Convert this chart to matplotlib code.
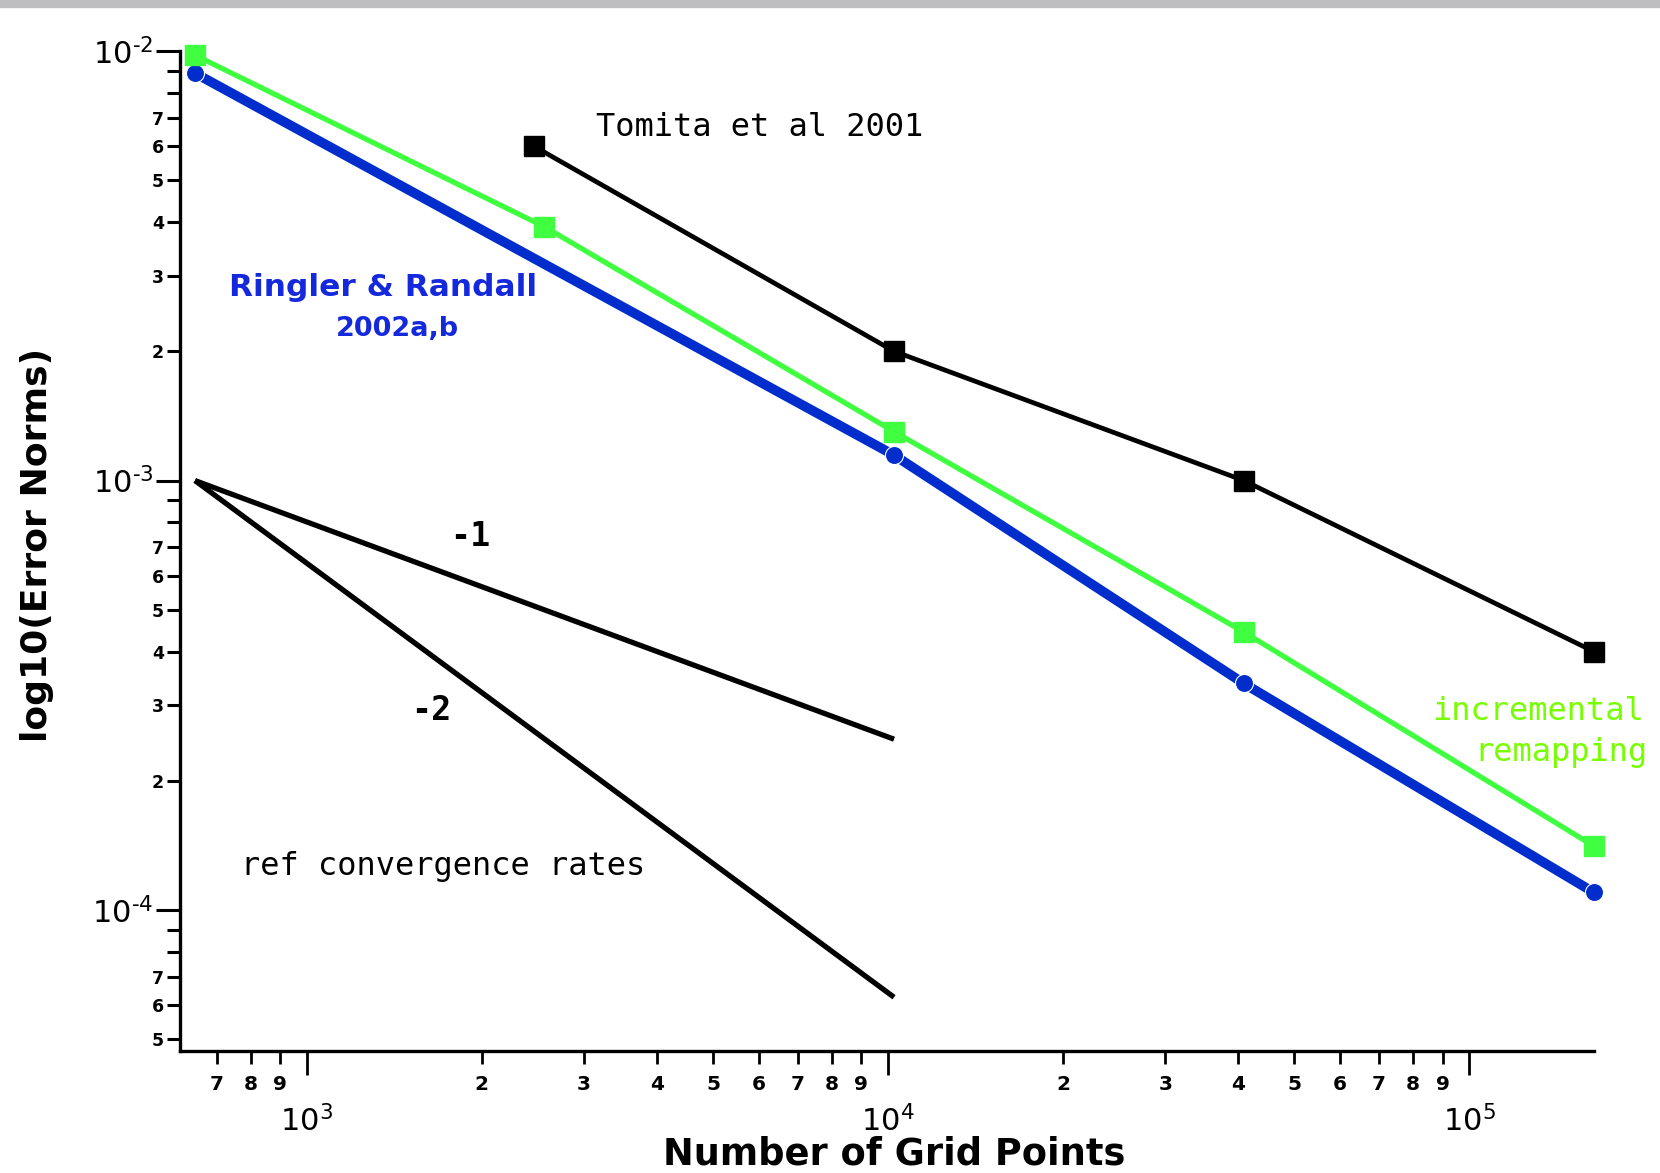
import math
import matplotlib
matplotlib.use('Agg')
import matplotlib.pyplot as plt
from matplotlib.ticker import FixedLocator, FuncFormatter
from matplotlib.patches import Rectangle

# data
grid_pts = [642, 2562, 10242, 40962, 163842]
remap_err = [9.78e-3, 3.90e-3, 1.30e-3, 4.44e-4, 1.41e-4]

rr_pts = [642, 10242, 40962, 163842]
rr_err = [8.88e-3, 1.146e-3, 3.37e-4, 1.10e-4]

tomita_pts = [2460, 10242, 40962, 163842]
tomita_err = [6.0e-3, 2.0e-3, 1.0e-3, 4.0e-4]

ref_pts = [642, 10242]
ref_rate1 = [1.0e-3, 2.5e-4]
ref_rate2 = [1.0e-3, 6.27e-5]

y_major = [1e-4, 1e-3, 1e-2]
y_minor = [5e-5, 6e-5, 7e-5, 8e-5, 9e-5] + \
          [k * 1e-4 for k in range(2, 10)] + [k * 1e-3 for k in range(2, 10)]
x_major = [1e3, 1e4, 1e5]
x_minor = [700, 800, 900] + [k * 1e3 for k in range(2, 10)] + \
          [k * 1e4 for k in range(2, 10)]

W, H = 1660, 1173
mono = ['DejaVu Sans Mono']
plt.rcParams['mathtext.default'] = 'regular'


def px(x, y):
    return x / W, 1 - y / H


fig = plt.figure(figsize=(W / 100, H / 100), dpi=100)
fig.patches.append(Rectangle((0, 1 - 7 / H), 1, 7 / H, transform=fig.transFigure,
                             color='#bebec0', zorder=0))
ax = fig.add_axes([180 / W, 1 - 1051 / H, (1594 - 180) / W, (1051 - 51) / H])
ax.set_xscale('log')
ax.set_yscale('log')

# reference slopes
ax.plot(ref_pts, ref_rate1, color='black', lw=3.8, solid_capstyle='butt')
ax.plot(ref_pts, ref_rate2, color='black', lw=3.8, solid_capstyle='butt')

ax.plot(tomita_pts, tomita_err, color='black', lw=3.4, marker='s', ms=15,
        clip_on=False, zorder=3)
ax.plot(rr_pts, rr_err, color='#002DCC', lw=7, marker='o', ms=13,
        mec='white', mew=0.8, clip_on=False, zorder=4)
ax.plot(grid_pts, remap_err, color='#40FF40', lw=3.8, marker='s', ms=15,
        clip_on=False, zorder=5)

ax.set_xlim(605, 1.64e5)
ax.set_ylim(4.7e-5, 1e-2)

for s in ['top', 'right']:
    ax.spines[s].set_visible(False)
for s in ['left', 'bottom']:
    ax.spines[s].set_linewidth(2.4)

ax.yaxis.set_major_locator(FixedLocator(y_major))
ax.yaxis.set_minor_locator(FixedLocator(y_minor))
ax.xaxis.set_major_locator(FixedLocator(x_major))
ax.xaxis.set_minor_locator(FixedLocator(x_minor))


def pow_fmt(v, pos):
    e = round(math.log10(v))
    sign = '\u2010' if e < 0 else ''
    return '$10^{%s%d}$' % (sign, abs(e))


def lead_digit(v):
    return int(round(v / 10 ** math.floor(math.log10(v) + 1e-9)))


def minor_fmt(v, pos):
    d = lead_digit(v)
    return '' if d in (8, 9) else str(d)


def xminor_fmt(v, pos):
    return str(lead_digit(v))


ax.yaxis.set_major_formatter(FuncFormatter(pow_fmt))
ax.yaxis.set_minor_formatter(FuncFormatter(minor_fmt))
ax.xaxis.set_major_formatter(FuncFormatter(pow_fmt))
ax.xaxis.set_minor_formatter(FuncFormatter(xminor_fmt))

ax.tick_params(axis='y', which='major', length=17, width=2.2, pad=2, labelsize=22)
ax.tick_params(axis='y', which='minor', length=9.4, width=2.2, pad=2, labelsize=12.5)
ax.tick_params(axis='x', which='major', length=17, width=2, pad=22, labelsize=22)
ax.tick_params(axis='x', which='minor', length=9.4, width=2, pad=8, labelsize=14.5)
for lab in ax.yaxis.get_minorticklabels():
    lab.set_fontweight('bold')
for lab in ax.xaxis.get_minorticklabels():
    lab.set_fontweight('bold')

# annotations
fig.text(*px(596, 127), 'Tomita et al 2001', family=mono, fontsize=23,
         va='center', ha='left')
fig.text(*px(229, 287), 'Ringler & Randall', fontsize=22.5, fontweight='bold',
         color='#1428DC', va='center', ha='left')
fig.text(*px(397, 329), '2002a,b', fontsize=19.5, fontweight='bold',
         color='#1428DC', va='center', ha='center')
fig.text(*px(450, 536), '-1', family=mono, fontsize=24, fontweight='bold',
         va='center', ha='left')
fig.text(*px(411, 711), '-2', family=mono, fontsize=24, fontweight='bold',
         va='center', ha='left')
fig.text(*px(241, 867), 'ref convergence rates', family=mono, fontsize=23,
         va='center', ha='left')
fig.text(*px(1644, 711), 'incremental', family=mono, fontsize=23,
         color='#77FF00', va='center', ha='right')
fig.text(*px(1648, 752), 'remapping', family=mono, fontsize=23,
         color='#77FF00', va='center', ha='right')

fig.text(*px(37, 545), 'log10(Error Norms)', fontsize=26, fontweight='bold',
         rotation=90, va='center', ha='center')
fig.text(*px(894, 1154), 'Number of Grid Points', fontsize=26.5,
         fontweight='bold', va='center', ha='center')

fig.savefig('out.png', dpi=100)
